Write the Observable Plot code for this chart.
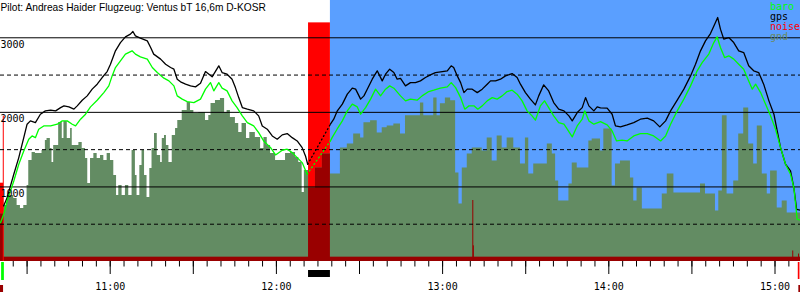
<!DOCTYPE html>
<html><head><meta charset="utf-8">
<script src="https://cdn.jsdelivr.net/npm/d3@7"></script>
<script src="https://cdn.jsdelivr.net/npm/@observablehq/plot@0.6"></script>
<style>
html,body{margin:0;padding:0;background:#fff;}
#chart svg{display:block;}
</style></head><body><div id="chart"></div>
<script>
// ---- data (time = minutes after 10:00, altitude in metres) ----
const title = "Pilot: Andreas Haider Flugzeug: Ventus bT 16,6m D-KOSR";
const timeStart = 20.4, timeEnd = 309.2;

const gpsTime = [21.5,22.8,25.2,27.0,28.8,30.0,31.2,33.0,34.8,36.6,38.5,40.3,42.1,43.3,45.1,46.9,48.1,49.9,51.7,53.5,55.3,57.1,58.9,60.1,61.9,63.7,65.5,67.3,68.2,69.1,70.9,73.4,74.6,75.7,78.2,80.0,81.8,83.0,84.2,85.4,87.2,89.0,90.8,92.6,94.4,96.8,99.2,100.4,102.2,104.0,105.2,106.4,107.7,109.5,111.8,113.6,114.9,116.7,118.5,120.3,122.1,123.9,125.7,127.5,129.3,130.5,131.3,139.5,140.7,142.0,143.8,145.6,147.4,148.6,150.4,151.6,152.8,154.6,156.4,158.2,159.4,160.9,162.4,163.6,164.8,166.6,168.4,170.2,172.0,173.8,175.6,177.4,179.9,181.7,183.1,184.0,185.3,186.5,187.7,188.9,190.7,192.5,194.3,196.1,197.3,199.1,200.9,202.7,205.1,206.9,208.1,209.9,211.7,213.5,214.7,216.5,218.3,220.1,221.9,223.8,225.6,226.8,228.6,230.4,231.6,232.8,234.6,235.8,237.0,239.4,241.2,242.4,244.2,246.6,249.0,251.4,253.9,256.2,258.4,260.5,262.3,264.7,267.1,269.5,271.3,273.1,274.9,276.7,278.5,279.3,280.3,281.5,283.3,285.1,286.9,288.7,290.5,292.3,294.1,295.9,297.8,299.6,300.8,302.0,303.8,305.6,306.8,307.8,309.2];
const gpsAlt = [745,856,1170,1393,1661,1841,1886,1863,1975,2020,2029,2020,2064,2087,2073,2043,2087,2163,2221,2311,2378,2467,2547,2646,2825,2936,3013,3049,3084,3026,2995,2959,2869,2781,2714,2646,2601,2579,2445,2409,2378,2355,2342,2390,2547,2476,2624,2534,2512,2445,2332,2198,2064,2043,2020,1953,1818,1774,1684,1640,1698,1715,1661,1617,1527,1416,1304,1841,1908,2020,2110,2244,2324,2311,2177,2221,2311,2445,2557,2422,2512,2579,2534,2445,2456,2355,2399,2399,2422,2467,2503,2534,2547,2557,2624,2601,2489,2399,2265,2311,2311,2265,2311,2378,2422,2422,2445,2489,2520,2467,2378,2265,2177,2100,2221,2369,2288,2131,2043,2020,1953,1886,1997,2064,2198,2087,2020,2073,2060,2056,1975,1818,1805,1832,1863,1908,1922,1886,1805,1886,2020,2163,2311,2489,2646,2825,2959,3057,3205,3272,3116,2982,3003,2936,2825,2802,2624,2557,2534,2378,2154,1975,1751,1527,1304,1215,990,700,687];

const baroTime = [20.4,21.6,22.8,25.2,27.0,28.8,30.6,31.8,33.0,34.2,36.0,38.5,40.9,42.7,44.5,46.3,47.5,49.3,51.1,52.9,55.3,57.7,59.5,60.7,61.9,63.7,65.5,67.9,69.1,70.9,73.4,75.2,77.0,79.4,81.2,83.0,84.2,86.0,87.8,90.2,92.6,94.4,96.2,97.4,99.2,100.4,102.2,104.0,105.8,107.7,109.5,111.8,113.6,115.4,117.9,119.7,122.1,123.9,125.7,127.5,129.3,131.1,139.5,140.1,141.9,143.8,145.6,147.4,149.2,150.4,152.2,154.0,155.8,157.6,159.4,160.9,162.4,164.8,166.6,168.4,170.8,172.6,175.0,176.8,179.2,181.7,183.1,184.7,186.5,188.0,189.5,191.3,192.7,194.3,196.1,197.9,199.7,201.5,203.3,205.1,206.9,208.7,210.5,212.3,213.5,215.3,216.8,218.3,220.1,221.9,223.8,225.0,226.8,228.6,230.4,231.3,232.8,234.6,237.0,239.4,241.2,242.8,244.8,246.6,249.0,251.4,253.9,256.2,258.7,260.5,262.3,264.7,267.1,269.5,271.9,273.7,276.1,277.9,279.1,280.3,281.8,283.3,285.1,286.9,288.7,290.5,291.8,293.0,294.8,296.6,298.4,300.2,302.0,303.8,305.6,306.8,308.0,309.2];
const baroAlt = [521,637,812,1080,1304,1483,1640,1684,1661,1774,1818,1818,1841,1886,1886,1841,1818,1908,1975,2073,2163,2265,2355,2489,2601,2691,2781,2825,2781,2744,2714,2601,2534,2459,2422,2355,2221,2177,2145,2131,2177,2311,2399,2288,2399,2324,2288,2154,2064,1953,1863,1818,1729,1617,1527,1429,1492,1506,1460,1393,1326,1170,1617,1661,1774,1886,2020,2110,2073,1975,2064,2177,2311,2221,2311,2355,2324,2221,2154,2177,2163,2221,2279,2297,2324,2342,2399,2332,2198,2043,2087,2087,2043,2087,2154,2198,2177,2221,2279,2297,2244,2154,2020,1953,1895,2087,2154,2064,1953,1863,1841,1774,1671,1818,1908,2020,1886,1841,1875,1832,1751,1617,1627,1617,1684,1715,1715,1684,1617,1684,1841,2020,2177,2355,2557,2668,2781,2936,3013,2869,2735,2758,2714,2646,2579,2422,2311,2378,2265,2110,1953,1774,1527,1304,1170,990,566,557];

const gndTime = [20.4,21.6,22.8,25.2,26.4,27.6,28.8,30.0,30.6,31.8,33.0,35.4,36.6,37.2,38.4,39.0,39.6,41.4,42.7,43.3,44.5,45.7,46.3,48.7,49.9,51.1,51.9,52.9,54.1,55.3,56.5,57.7,58.9,60.1,61.3,62.3,63.1,64.3,65.5,66.7,67.9,69.1,69.7,70.7,71.5,72.4,73.3,74.3,75.1,76.0,77.0,78.2,78.8,79.6,80.3,81.2,82.4,83.6,84.4,86.0,87.8,89.0,90.2,92.0,94.4,95.6,96.4,98.0,99.8,101.3,102.2,103.4,105.2,106.4,107.6,109.2,110.4,112.4,114.3,115.5,116.7,117.9,119.7,123.3,125.1,126.9,128.1,129.3,130.1,131.6,134.1,136.6,139.5,143.1,145.6,147.9,150.4,151.6,154.0,156.4,158.2,160.0,162.4,164.8,166.6,172.0,173.2,176.8,178.0,179.2,181.0,182.9,184.7,185.9,187.1,188.9,190.7,194.3,196.1,197.9,199.7,201.5,203.3,205.7,208.1,209.9,211.1,212.9,217.8,219.6,220.8,221.9,225.6,226.8,228.6,232.8,234.0,237.0,238.2,241.2,242.4,244.2,247.8,249.0,250.2,252.1,259.3,261.1,263.5,273.1,274.9,278.5,279.7,281.0,282.7,285.1,286.9,288.7,290.5,292.3,293.6,295.4,297.2,298.4,300.8,302.6,304.4,309.2];
const gndAlt = [637,751,885,845,751,711,751,1019,1354,1462,1448,1489,1623,1649,1515,1328,1556,1864,1649,1877,1649,1784,1556,1596,1515,1381,1046,1381,1448,1381,1421,1354,1448,1354,1153,885,1019,885,1019,885,1489,1153,885,1287,1489,1153,858,1247,1515,1716,1421,1328,1649,1690,1556,1328,1690,1784,1891,2025,2132,2025,1985,1998,1891,1958,2119,2159,2186,1998,2025,1931,1851,1730,1851,1649,1730,1663,1515,1663,1556,1448,1354,1448,1462,1395,1328,925,1220,986,1255,1443,1174,1523,1577,1711,1657,1859,1886,1724,1792,1818,1845,1711,1953,2127,1953,2194,1953,2114,2194,2154,1188,772,1255,1443,1523,1483,1657,1349,1684,1523,1657,1523,1308,1657,1174,1308,1577,1443,1080,812,1040,1322,1255,1617,1644,1483,1778,1013,1308,1349,1121,812,986,705,906,1174,919,1040,906,678,946,1953,906,1080,1711,2060,1577,1308,1818,1174,906,1215,718,812,651,651];

// engine / launch noise periods and isolated noise spikes
const noiseFrom = [20.4, 131.6];
const noiseTo = [21.5, 139.5];
const noiseLevel = [1050, 3200];
const noiseFloor = 58;
const spikeTime = [21.4, 190.9, 191.1, 306.4, 308.5];
const spikeLevel = [1950, 818, 210, 141, 100];

const taskStart = 139.5;             // blue task section begins
const takeoffFrom = 20.8, takeoffTo = 21.8;
const landingFrom = 308.4, landingTo = 309.0;

const gridSolid = [1000, 2000, 3000];
const gridDashed = [500, 1500, 2500];
const yLabels = [1000, 2000, 3000];
const hourTicks = [60, 120, 180, 240, 300];
const hourLabels = ["11:00", "12:00", "13:00", "14:00", "15:00"];

const legendNames = ["baro", "gps", "noise", "gnd"];

// ---- styles ----
const BLUE = "#5a9fff", GND = "#638c63", RED = "#ff0000", DARK = "#990000", LIME = "#00ff00";
const legendColors = [LIME, "#000000", RED, "#6a8a5f"];

// ---- build tables ----
const motorOn = noiseFrom[1], motorOff = noiseTo[1];
function seriesRows(times, alts) {
  return times.map((t, i) => ({t, alt: alts[i], seg: t <= motorOn ? 0 : (t >= motorOff ? 1 : 2)}));
}
const gpsRows = seriesRows(gpsTime, gpsAlt).filter(d => d.seg !== 2);
const baroRows = seriesRows(baroTime, baroAlt).filter(d => d.seg !== 2);
function gapRows(rows) {
  const a = rows.filter(d => d.seg === 0), b = rows.filter(d => d.seg === 1);
  return [a[a.length - 1], b[0]];
}
const gndRows = gndTime.map((t, i) => ({t, alt: gndAlt[i]}));
function groundBetween(a, b, k) {
  let v0 = gndRows[0].alt;
  for (const r of gndRows) if (r.t <= a) v0 = r.alt;
  const inner = gndRows.filter(r => r.t > a && r.t < b);
  const last = inner.length ? inner[inner.length - 1].alt : v0;
  return [{t: a, alt: v0, k}, ...inner.map(r => ({...r, k})), {t: b, alt: last, k}];
}
const darkGround = noiseFrom.flatMap((a, i) => groundBetween(a, noiseTo[i], i));
const noiseRows = noiseFrom.map((a, i) => ({t1: a, t2: noiseTo[i], v: noiseLevel[i]}));
const spikeRows = spikeTime.map((t, i) => ({t, v: spikeLevel[i]}));
const minorTicks = d3.range(25, timeEnd, 5);
const halfTicks = d3.range(30, timeEnd, 30);

const marks = [
  Plot.rect([{a: taskStart, b: timeEnd}], {x1: "a", x2: "b", fill: BLUE}),
  Plot.rect(noiseRows, {x1: "t1", x2: "t2", y1: () => 0, y2: "v", fill: RED}),
  Plot.areaY(gndRows, {x: "t", y: "alt", curve: "step-after", fill: GND}),
  Plot.areaY(darkGround, {x: "t", y: "alt", z: "k", curve: "step-after", fill: DARK}),
  Plot.rect([{a: timeStart, b: timeEnd, v: noiseFloor}], {x1: "a", x2: "b", y1: () => 0, y2: "v", fill: DARK}),
  Plot.ruleX(spikeRows.filter(d => d.v > 1000), {x: "t", y1: () => 0, y2: "v", stroke: RED}),
  Plot.ruleX(spikeRows.filter(d => d.v <= 1000), {x: "t", y1: () => 0, y2: "v", stroke: DARK}),
  Plot.ruleY(gridSolid, {y: d => d, stroke: "#000"}),
  Plot.ruleY(gridDashed, {y: d => d, stroke: "#000", strokeDasharray: "4,3"}),
  Plot.line(gpsRows, {x: "t", y: "alt", z: "seg", stroke: "#000", strokeWidth: 1.3}),
  Plot.line(gapRows(gpsRows), {x: "t", y: "alt", stroke: "#000", strokeWidth: 1.3, strokeDasharray: "1,3"}),
  Plot.line(baroRows, {x: "t", y: "alt", z: "seg", stroke: LIME, strokeWidth: 1.3}),
  Plot.line(gapRows(baroRows), {x: "t", y: "alt", stroke: LIME, strokeWidth: 1.3, strokeDasharray: "1,3"}),
  Plot.text(yLabels, {x: () => timeStart, y: d => d, text: d => String(d), textAnchor: "start", lineAnchor: "top", dy: 3, fill: "#000"}),
  // x axis ticks and labels
  Plot.ruleX(minorTicks, {x: d => d, stroke: "#000", insetTop: 261, insetBottom: -5.5}),
  Plot.ruleX(halfTicks, {x: d => d, stroke: "#000", insetTop: 261, insetBottom: -13}),
  Plot.text(hourTicks, {x: d => d, text: (d, i) => hourLabels[i], frameAnchor: "bottom", lineAnchor: "middle", dy: 25, fill: "#000"}),
  // event markers below the axis
  Plot.rect([{a: takeoffFrom, b: takeoffTo}], {x1: "a", x2: "b", fill: LIME, insetTop: 262, insetBottom: -19}),
  Plot.rect([{a: noiseFrom[0], b: noiseTo[0]}], {x1: "a", x2: "b", fill: DARK, insetTop: 285, insetBottom: -31}),
  Plot.rect([{a: motorOn, b: motorOff}], {x1: "a", x2: "b", fill: "#000", insetTop: 270, insetBottom: -16}),
  Plot.rect([{a: landingFrom, b: landingTo}], {x1: "a", x2: "b", fill: RED, insetTop: 262, insetBottom: -18}),
  Plot.rect([{a: landingFrom + 0.2, b: timeEnd}], {x1: "a", x2: "b", fill: DARK, insetTop: 285, insetBottom: -31}),
  // title
  Plot.text([title], {frameAnchor: "top-left", text: d => d, textAnchor: "start", lineAnchor: "top", dy: 2.8, fill: "#000",
    fontFamily: "'Liberation Sans', Arial, sans-serif", fontSize: 10.2})
];
legendNames.forEach((name, i) => {
  marks.push(Plot.text([name], {frameAnchor: "top-right", text: d => d, textAnchor: "start", lineAnchor: "top",
    dx: -30.5, dy: 2.4 + 10 * i, fill: legendColors[i]}));
});

const plot = Plot.plot({
  width: 800, height: 300,
  marginTop: 0, marginBottom: 39, marginLeft: 0, marginRight: 0,
  style: {fontFamily: "'DejaVu Sans Mono', monospace", fontSize: "10px", background: "#fff", overflow: "visible"},
  x: {domain: [timeStart, timeEnd], axis: null},
  y: {domain: [0, 3500], axis: null},
  marks
});
document.getElementById("chart").append(plot);
</script></body></html>
